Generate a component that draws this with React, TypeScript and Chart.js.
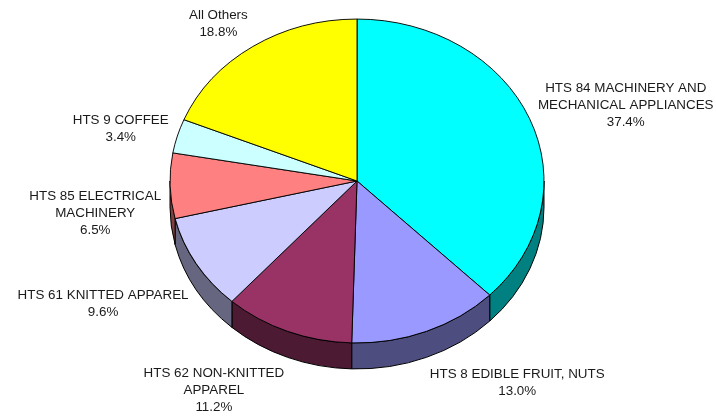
import React, { useEffect, useRef } from "react";
import { Chart, registerables } from "chart.js";

Chart.register(...registerables);

// ---- data ----
const categories: string[][] = [
  ["HTS 84 MACHINERY AND", "MECHANICAL APPLIANCES"],
  ["HTS 8 EDIBLE FRUIT, NUTS"],
  ["HTS 62 NON-KNITTED", "APPAREL"],
  ["HTS 61 KNITTED APPAREL"],
  ["HTS 85 ELECTRICAL", "MACHINERY"],
  ["HTS 9 COFFEE"],
  ["All Others"],
];
const shares: number[] = [37.4, 13.0, 11.2, 9.6, 6.5, 3.4, 18.8];
const topColors: string[] = ["#00FFFF", "#9999FF", "#993366", "#CCCCFF", "#FF8080", "#CCFFFF", "#FFFF00"];
const sideColors: string[] = ["#008080", "#4D4D80", "#4D1A33", "#666680", "#804040", "#668080", "#808000"];

// ---- style ----
const TILT = 0.866;
const DEPTH = 26;
const LINE_H = 17;
const FONT = "13.4px 'Liberation Sans', Arial, Helvetica, sans-serif";

const pie3d = {
  id: "pie3d",
  beforeDatasetsDraw(chart: any) {
    const ctx: CanvasRenderingContext2D = chart.ctx;
    const arcs = chart.getDatasetMeta(0).data as any[];
    if (!arcs.length) return false;
    const cx = arcs[0].x;
    const cy = arcs[0].y;
    const r = arcs[0].outerRadius;

    // side walls (front half only)
    ctx.save();
    ctx.lineWidth = 1;
    ctx.strokeStyle = "#000";
    ctx.lineJoin = "round";
    arcs.forEach((arc, i) => {
      const a0 = Math.max(arc.startAngle, 0);
      const a1 = Math.min(arc.endAngle, Math.PI);
      if (a1 <= a0) return;
      ctx.beginPath();
      ctx.ellipse(cx, cy, r, r * TILT, 0, a0, a1);
      ctx.ellipse(cx, cy + DEPTH, r, r * TILT, 0, a1, a0, true);
      ctx.closePath();
      ctx.fillStyle = sideColors[i];
      ctx.fill();
      ctx.stroke();
    });
    ctx.restore();

    // top faces, drawn by the arc elements under an elliptical transform
    ctx.save();
    ctx.translate(cx, cy);
    ctx.scale(1, TILT);
    ctx.translate(-cx, -cy);
    arcs.forEach((arc) => arc.draw(ctx));
    ctx.restore();

    // labels
    ctx.save();
    ctx.font = FONT;
    ctx.fillStyle = "#1a1a1a";
    ctx.textAlign = "center";
    ctx.textBaseline = "middle";
    arcs.forEach((arc, i) => {
      const lines = [...categories[i], shares[i].toFixed(1) + "%"];
      const m = (arc.startAngle + arc.endAngle) / 2;
      const ux = Math.cos(m);
      const uy = Math.sin(m);
      const ax = cx + r * ux;
      const ay = cy + r * TILT * uy + (uy > 0 ? DEPTH : 0);
      const w = Math.max(...lines.map((l) => ctx.measureText(l).width));
      const h = lines.length * LINE_H;
      const lx = ax + Math.sign(ux) * (w / 2 + 9 * Math.abs(ux));
      const ly = ay + uy * (h / 2 + 10);
      lines.forEach((l, j) =>
        ctx.fillText(l, lx, ly - ((lines.length - 1) * LINE_H) / 2 + j * LINE_H)
      );
    });
    ctx.restore();
    return false;
  },
};

export default function App() {
  const ref = useRef<HTMLCanvasElement | null>(null);
  useEffect(() => {
    if (!ref.current) return;
    const chart = new Chart(ref.current, {
      type: "pie",
      data: {
        labels: categories,
        datasets: [
          {
            data: shares,
            backgroundColor: topColors,
            borderColor: "#000",
            borderWidth: 1,
            radius: 187,
          } as any,
        ],
      },
      options: {
        responsive: false,
        animation: false,
        events: [],
        layout: { padding: { left: 0, right: 2, top: 0, bottom: 57 } },
        plugins: { legend: { display: false }, tooltip: { enabled: false } },
      },
      plugins: [pie3d],
    });
    return () => chart.destroy();
  }, []);
  return (
    <div style={{ position: "fixed", left: 0, top: 0, width: 716, height: 419, background: "#fff" }}>
      <canvas ref={ref} width={716} height={419} style={{ display: "block" }} />
    </div>
  );
}
